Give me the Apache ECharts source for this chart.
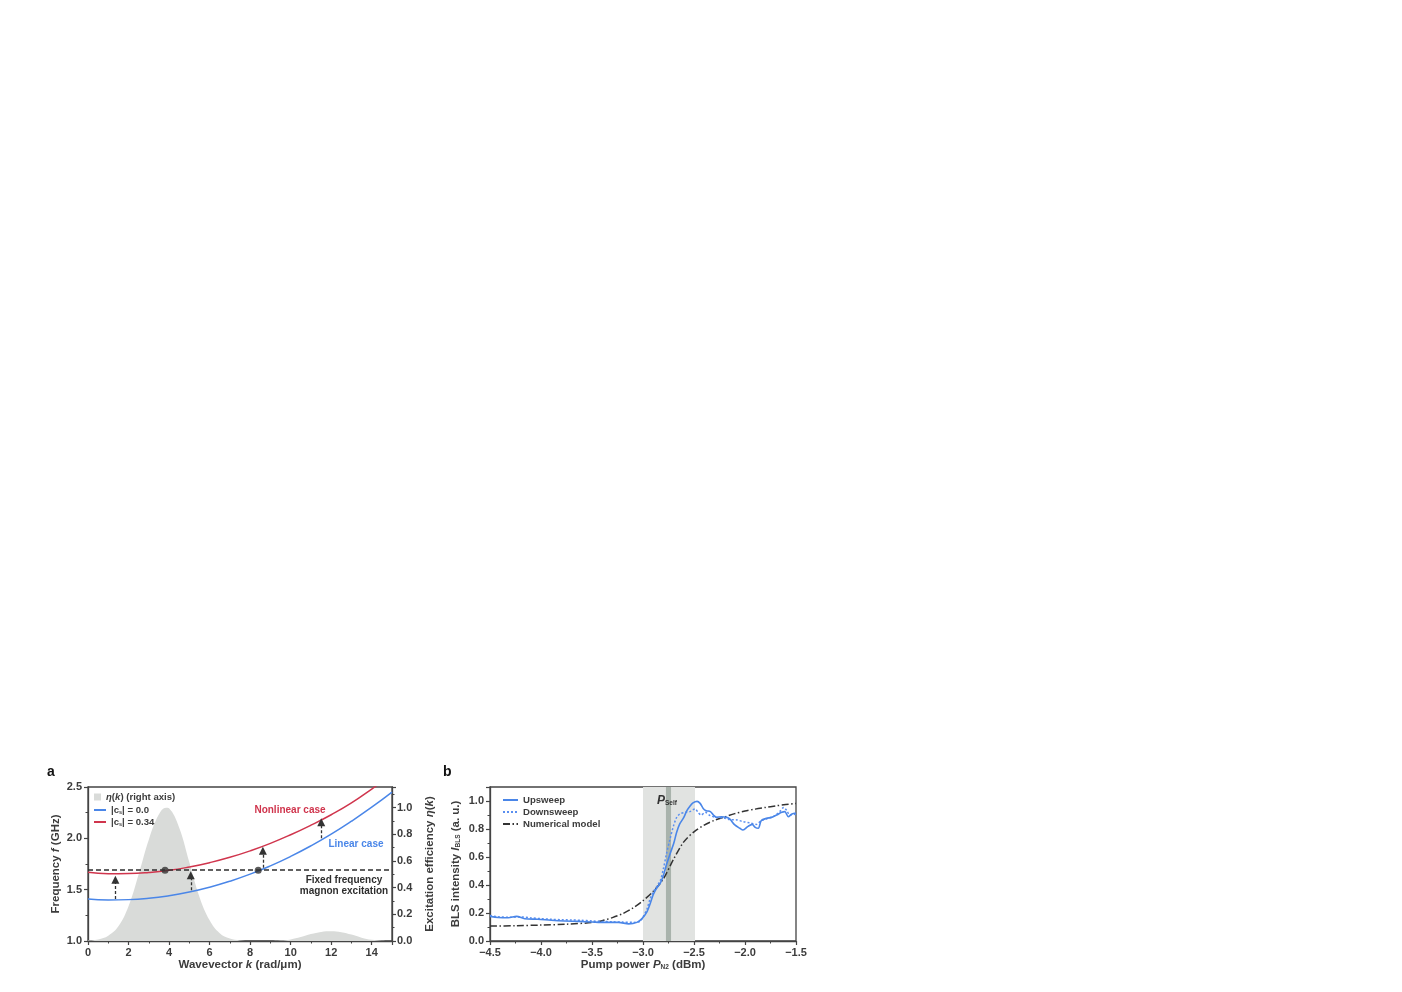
<!DOCTYPE html>
<html>
<head>
<meta charset="utf-8">
<title>Magnon excitation / BLS intensity</title>
<script src="https://cdn.jsdelivr.net/npm/echarts@6/dist/echarts.min.js"></script>
<style>
html, body { margin: 0; padding: 0; background: #fff; }
#main { width: 1402px; height: 992px; }
</style>
</head>
<body>
<div id="main"></div>
<script>
// ---- panel a : dispersion ----
var kVals = [0, 1, 2, 3, 4, 5, 6, 7, 8, 9, 10, 11, 12, 13, 14, 15];
var fLinear = [1.409, 1.400, 1.403, 1.416, 1.441, 1.477, 1.524, 1.582, 1.651, 1.732, 1.824, 1.927, 2.041, 2.167, 2.303, 2.450];
var fNonlinear = [1.670, 1.656, 1.657, 1.667, 1.688, 1.721, 1.763, 1.815, 1.878, 1.951, 2.035, 2.128, 2.230, 2.345, 2.480, 2.620];

var etaK = [0, 0.5, 1, 1.5, 2, 2.5, 3, 3.5, 3.85, 4, 4.5, 5, 5.5, 6, 6.5, 7, 7.5, 8, 9, 9.5, 10, 10.5, 11, 11.5, 12, 12.5, 13, 13.5, 14, 14.5, 15];
var eta = [0.003, 0.012, 0.04, 0.11, 0.26, 0.5, 0.76, 0.95, 1.0, 0.995, 0.85, 0.59, 0.33, 0.155, 0.058, 0.018, 0.004, 0, 0, 0.003, 0.012, 0.03, 0.052, 0.068, 0.073, 0.066, 0.048, 0.025, 0.009, 0.002, 0];

var fixedFreq = 1.69;
var crossK = [3.8, 8.4];
var arrowK = [1.35, 5.07, 8.63, 11.51];
var arrowFrom = [1.41, 1.495, 1.713, 2.0];
var arrowTo = [1.596, 1.641, 1.879, 2.157];

// ---- panel b : BLS intensity ----
var upP = [-4.5, -4.42, -4.32, -4.24, -4.16, -4.03, -3.9, -3.77, -3.63, -3.5, -3.37, -3.24, -3.14, -3.06, -3.01, -2.96, -2.93, -2.9, -2.87, -2.83, -2.8, -2.77, -2.735, -2.7, -2.67, -2.64, -2.6, -2.57, -2.54, -2.51, -2.47, -2.44, -2.41, -2.38, -2.34, -2.31, -2.28, -2.23, -2.18, -2.15, -2.1, -2.05, -2.02, -1.97, -1.93, -1.9, -1.87, -1.84, -1.79, -1.74, -1.69, -1.64, -1.61, -1.575, -1.54, -1.5];
var upI = [0.176, 0.168, 0.166, 0.176, 0.159, 0.155, 0.148, 0.143, 0.14, 0.136, 0.133, 0.133, 0.122, 0.133, 0.16, 0.21, 0.266, 0.33, 0.373, 0.413, 0.468, 0.544, 0.622, 0.694, 0.776, 0.836, 0.883, 0.931, 0.962, 0.986, 0.997, 0.983, 0.947, 0.931, 0.924, 0.9, 0.883, 0.888, 0.883, 0.872, 0.829, 0.805, 0.793, 0.819, 0.833, 0.812, 0.805, 0.86, 0.876, 0.883, 0.9, 0.919, 0.924, 0.888, 0.907, 0.914];

var downP = [-4.5, -4.4, -4.3, -4.2, -4.1, -4.0, -3.9, -3.8, -3.7, -3.6, -3.5, -3.4, -3.3, -3.2, -3.1, -3.03, -3.0, -2.96, -2.93, -2.9, -2.87, -2.83, -2.8, -2.77, -2.735, -2.7, -2.67, -2.64, -2.59, -2.54, -2.49, -2.46, -2.43, -2.39, -2.34, -2.28, -2.21, -2.15, -2.08, -2.02, -1.95, -1.89, -1.84, -1.79, -1.72, -1.66, -1.62, -1.59, -1.56, -1.5];
var downI = [0.182, 0.172, 0.17, 0.172, 0.165, 0.16, 0.155, 0.152, 0.15, 0.148, 0.143, 0.14, 0.137, 0.135, 0.133, 0.14, 0.171, 0.231, 0.302, 0.349, 0.385, 0.432, 0.516, 0.622, 0.729, 0.824, 0.883, 0.907, 0.919, 0.924, 0.943, 0.919, 0.9, 0.919, 0.895, 0.883, 0.879, 0.867, 0.865, 0.853, 0.843, 0.833, 0.86, 0.872, 0.89, 0.924, 0.954, 0.931, 0.9, 0.907];

var modelP = [-4.5, -4.25, -4.0, -3.75, -3.5, -3.4, -3.3, -3.2, -3.1, -3.0, -2.9, -2.8, -2.7, -2.6, -2.5, -2.4, -2.3, -2.2, -2.1, -2.0, -1.9, -1.8, -1.7, -1.6, -1.5];
var modelI = [0.107, 0.109, 0.114, 0.12, 0.132, 0.145, 0.167, 0.195, 0.235, 0.288, 0.355, 0.444, 0.585, 0.708, 0.78, 0.828, 0.862, 0.886, 0.91, 0.928, 0.942, 0.954, 0.965, 0.975, 0.983];

var bandP = [-3.0, -2.49];
var selfP = [-2.775, -2.725];

function zip(a, b) { return a.map(function (v, i) { return [v, b[i]]; }); }

var FONT = 'Liberation Sans';
var TXT = '#3c3c3c';
var AX = '#444';

var rich = {
    i: { fontFamily: FONT, fontWeight: 'bold', fontStyle: 'italic', fontSize: 11.5, color: TXT },
    n: { fontFamily: FONT, fontWeight: 'bold', fontSize: 11.5, color: TXT },
    s: { fontFamily: FONT, fontWeight: 'bold', fontSize: 6.5, color: TXT, verticalAlign: 'bottom', padding: [5, 0, 0, 0] }
};
var legRich = {
    t: { fontFamily: FONT, fontWeight: 'bold', fontSize: 9.6, color: TXT },
    i: { fontFamily: FONT, fontWeight: 'bold', fontStyle: 'italic', fontSize: 9.6, color: TXT },
    s: { fontFamily: FONT, fontWeight: 'bold', fontSize: 5.5, color: TXT, verticalAlign: 'bottom', padding: [4, 0, 0, 0] }
};
var legendNames = {
    'eta': '{i|η}{t|(}{i|k}{t|) (right axis)}',
    'lin': '{t||c}{s|s}{t|| = 0.0}',
    'nonlin': '{t||c}{s|s}{t|| = 0.34}',
    'Upsweep': '{t|Upsweep}',
    'Downsweep': '{t|Downsweep}',
    'Numerical model': '{t|Numerical model}'
};

function axisBase() {
    return {
        axisLine: { show: true, lineStyle: { color: AX, width: 1.3 } },
        axisTick: { show: true, inside: false, length: 4, lineStyle: { color: AX, width: 1.2 } },
        minorTick: { show: true, splitNumber: 2, length: 2.5, lineStyle: { color: AX, width: 1 } },
        splitLine: { show: false },
        axisLabel: { fontFamily: FONT, fontWeight: 'bold', fontSize: 11, color: TXT, margin: 6 },
        nameLocation: 'middle',
        nameTextStyle: { fontFamily: FONT, fontWeight: 'bold', fontSize: 11.5, color: TXT, rich: rich }
    };
}
function ax(extra) {
    var o = axisBase();
    for (var key in extra) {
        if (typeof extra[key] === 'object' && o[key] && !Array.isArray(extra[key])) {
            o[key] = Object.assign({}, o[key], extra[key]);
        } else {
            o[key] = extra[key];
        }
    }
    return o;
}
function minus(v, d) { return (v < 0 ? '\u2212' : '') + Math.abs(v).toFixed(d); }

var myChart = echarts.init(document.getElementById('main'), null, { renderer: 'canvas' });

var option = {
    backgroundColor: '#fff',
    animation: false,
    grid: [
        { left: 88, top: 787, width: 304, height: 154, show: true, borderColor: AX, borderWidth: 1.3, backgroundColor: 'transparent' },
        { left: 490, top: 787, width: 306, height: 154, show: true, borderColor: AX, borderWidth: 1.3, backgroundColor: 'transparent' }
    ],
    xAxis: [
        ax({ type: 'value', gridIndex: 0, min: 0, max: 15, interval: 2,
             name: 'Wavevector {i|k} (rad/μm)', nameGap: 18,
             axisLabel: { showMaxLabel: false, formatter: function (v) { return v.toFixed(0); } } }),
        ax({ type: 'value', gridIndex: 1, min: -4.5, max: -1.5, interval: 0.5,
             name: 'Pump power {i|P}{s|N2} (dBm)', nameGap: 18,
             axisLabel: { formatter: function (v) { return minus(v, 1); } } })
    ],
    yAxis: [
        ax({ type: 'value', gridIndex: 0, min: 1.0, max: 2.5, interval: 0.5, position: 'left',
             name: 'Frequency {i|f} (GHz)', nameRotate: 90, nameGap: 26,
             axisLabel: { formatter: function (v) { return v.toFixed(1); } } }),
        ax({ type: 'value', gridIndex: 0, min: 0, max: 1.155, interval: 0.2, position: 'right',
             name: 'Excitation efficiency {i|η}{n|(}{i|k}{n|)}', nameRotate: 90, nameGap: 32,
             axisLabel: { showMaxLabel: false, margin: 5, formatter: function (v) { return v.toFixed(1); } } }),
        ax({ type: 'value', gridIndex: 1, min: 0, max: 1.1, interval: 0.2, position: 'left',
             name: 'BLS intensity {i|I}{s|BLS} (a. u.)', nameRotate: 90, nameGap: 28,
             axisLabel: { showMaxLabel: false, formatter: function (v) { return v.toFixed(1); } } })
    ],
    legend: [
        { data: [{ name: 'eta', icon: 'rect' }], left: 94, top: 792, padding: 0, itemWidth: 7, itemHeight: 7,
          formatter: function (n) { return legendNames[n]; }, textStyle: { rich: legRich } },
        { data: ['lin', 'nonlin'], left: 93, top: 805, orient: 'vertical', padding: 0, itemWidth: 12, itemHeight: 10, itemGap: 2,
          itemStyle: { opacity: 0 },
          formatter: function (n) { return legendNames[n]; }, textStyle: { rich: legRich, lineHeight: 10 } },
        { data: ['Upsweep', 'Downsweep', 'Numerical model'], left: 502, top: 795, orient: 'vertical', padding: 0,
          itemWidth: 15, itemHeight: 10, itemGap: 2, itemStyle: { opacity: 0 },
          formatter: function (n) { return legendNames[n]; }, textStyle: { rich: legRich, lineHeight: 10 } }
    ],
    series: [
        { name: 'eta', type: 'line', xAxisIndex: 0, yAxisIndex: 1, data: zip(etaK, eta), smooth: 0.4,
          showSymbol: false, symbol: 'none', color: '#d9dbd9', itemStyle: { color: '#d9dbd9' },
          lineStyle: { width: 0 }, areaStyle: { color: '#d9dbd9', opacity: 1 }, z: 1 },
        { name: 'fixed', type: 'line', xAxisIndex: 0, yAxisIndex: 0, data: [], symbol: 'none',
          markLine: { silent: true, symbol: ['none', 'none'], label: { show: false },
                      lineStyle: { color: '#2e2e2e', width: 1.5, type: [5, 3] },
                      data: [{ yAxis: fixedFreq }] }, z: 3 },
        { name: 'lin', type: 'line', xAxisIndex: 0, yAxisIndex: 0, data: zip(kVals, fLinear), smooth: 0.5,
          symbol: 'none', color: '#4a86e8', lineStyle: { color: '#4a86e8', width: 1.5 }, z: 4 },
        { name: 'nonlin', type: 'line', xAxisIndex: 0, yAxisIndex: 0, data: zip(kVals, fNonlinear), smooth: 0.5,
          symbol: 'none', color: '#d0354d', lineStyle: { color: '#d0354d', width: 1.5 }, z: 4 },
        { name: 'arrows', type: 'lines', coordinateSystem: 'cartesian2d', xAxisIndex: 0, yAxisIndex: 0,
          symbol: ['none', 'triangle'], symbolSize: 8,
          lineStyle: { color: '#333', width: 1.3, type: [3, 2], opacity: 1 },
          data: arrowK.map(function (k, i) { return { coords: [[k, arrowFrom[i]], [k, arrowTo[i]]] }; }), z: 5 },
        { name: 'cross', type: 'scatter', xAxisIndex: 0, yAxisIndex: 0, symbolSize: 7,
          itemStyle: { color: '#333' }, data: crossK.map(function (k) { return [k, fixedFreq]; }), z: 6 },

        { name: 'Numerical model', type: 'line', xAxisIndex: 1, yAxisIndex: 2, data: zip(modelP, modelI), smooth: 0.3,
          symbol: 'none', color: '#333', lineStyle: { color: '#333', width: 1.5, type: [7, 2.5, 1.5, 2.5] },
          markArea: { silent: true, data: [
              [{ xAxis: bandP[0], itemStyle: { color: '#e1e3e1' } }, { xAxis: bandP[1] }],
              [{ xAxis: selfP[0], itemStyle: { color: '#a9b3ac' } }, { xAxis: selfP[1] }]
          ] }, z: 3 },
        { name: 'Downsweep', type: 'line', xAxisIndex: 1, yAxisIndex: 2, data: zip(downP, downI), smooth: 0.3,
          symbol: 'none', color: '#5a8ff0', lineStyle: { color: '#5a8ff0', width: 1.5, type: [2, 2] }, z: 4 },
        { name: 'Upsweep', type: 'line', xAxisIndex: 1, yAxisIndex: 2, data: zip(upP, upI), smooth: 0.3,
          symbol: 'none', color: '#4a86e8', lineStyle: { color: '#4a86e8', width: 1.6 }, z: 5 }
    ],
    graphic: [
        { type: 'text', left: 47, top: 765, style: { text: 'a', fontFamily: FONT, fontWeight: 'bold', fontSize: 14, fill: '#111' } },
        { type: 'text', left: 443, top: 765, style: { text: 'b', fontFamily: FONT, fontWeight: 'bold', fontSize: 14, fill: '#111' } },
        { type: 'text', x: 290, y: 810, style: { text: 'Nonlinear case', align: 'center', verticalAlign: 'middle',
          fontFamily: FONT, fontWeight: 'bold', fontSize: 10, fill: '#d0354d' }, z: 10 },
        { type: 'text', x: 356, y: 844, style: { text: 'Linear case', align: 'center', verticalAlign: 'middle',
          fontFamily: FONT, fontWeight: 'bold', fontSize: 10, fill: '#4a86e8' }, z: 10 },
        { type: 'text', x: 344, y: 886, style: { text: 'Fixed frequency\nmagnon excitation', align: 'center', verticalAlign: 'middle',
          lineHeight: 11, fontFamily: FONT, fontWeight: 'bold', fontSize: 10, fill: '#2e2e2e' }, z: 10 },
        { type: 'text', x: 657, y: 795, style: { rich: {
              p: { fontFamily: FONT, fontWeight: 'bold', fontStyle: 'italic', fontSize: 12, fill: '#333' },
              s: { fontFamily: FONT, fontWeight: 'bold', fontSize: 6.5, fill: '#333', verticalAlign: 'bottom', padding: [5, 0, 0, 0] } },
          text: '{p|P}{s|Self}' }, z: 10 }
    ]
};

myChart.setOption(option);
</script>
</body>
</html>
